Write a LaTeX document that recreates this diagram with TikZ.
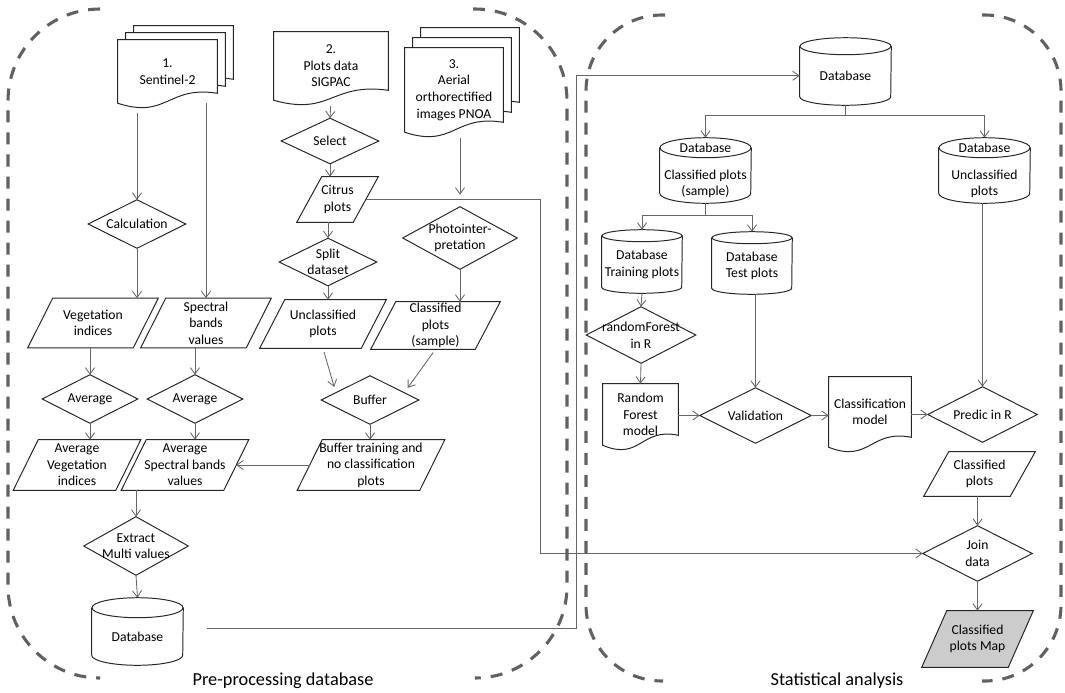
\documentclass[tikz,border=0pt]{standalone}
\usepackage{fontspec}
\setmainfont{Carlito}
\usetikzlibrary{arrows.meta,calc,backgrounds}

% outlines drawn round plain nodes
\newcommand{\decisionline}[1]{%
  \draw[shapeline] (#1.north) -- (#1.east) -- (#1.south) -- (#1.west) -- cycle;}
\newcommand{\ioline}[2][white]{%
  \draw[shapeline, fill=#1] ($(#2.south west)+(-12.5,0)$) -- ($(#2.north west)+(12.5,0)$)
    -- ($(#2.north east)+(12.5,0)$) -- ($(#2.south east)+(-12.5,0)$) -- cycle;}
\newcommand{\docline}[3]{%
  \draw[shapeline, fill=white] ($(#1.north west)+(#2,#3)$) -- ($(#1.north east)+(#2,#3)$)
    -- ($(#1.south east)+(#2,#3-10)$)
    .. controls ($(#1.south)+(#2,#3-18)$) and ($(#1.south)+(#2,#3+16)$) .. ($(#1.south west)+(#2,#3)$) -- cycle;}
\newcommand{\multidocline}[5]{\docline{#1}{#4}{#5}\docline{#1}{#2}{#3}\docline{#1}{0}{0}}
\newcommand{\dbline}[4]{%
  \draw[shapeline] ($(#1.north west)+(0,#4)$) -- ($(#1.south west)+(0,-#3)$)
    arc[start angle=180, end angle=0, x radius=#2, y radius=#3]
    -- ($(#1.north east)+(0,#4)$);
  \draw[shapeline] ($(#1.north)+(0,#4)$) ellipse[x radius=#2, y radius=#3];}

\begin{document}
\begin{tikzpicture}[
    x=0.025cm, y=-0.025cm,
    every node/.style={font=\fontsize{9.7}{11.8}\selectfont, align=center, inner sep=0pt},
    sized/.style 2 args={minimum width=#1, minimum height=#2},
    shapeline/.style={draw=black!85, line width=0.7pt},
    flow/.style={draw=black!60, line width=0.6pt, -{Straight Barb[length=4.5pt,width=6.5pt]}},
    link/.style={draw=black!60, line width=0.6pt},
    region/.style={draw=black!62, line width=2.2pt, dash pattern=on 0.3cm off 0.25cm},
    regionlabel/.style={font=\fontsize{13}{15}\selectfont}
]
\useasboundingbox (0,0) rectangle (1065,692);

% pre-processing column 1
\node[sized={2.475cm}{1.575cm}] (sentinel) at (167.5,71.5) {1.\\Sentinel-2};
\node[sized={2.425cm}{1.2cm}] (calc) at (137,224) {Calculation};
\node[sized={2.625cm}{1.225cm}] (vegidx) at (93,323) {Vegetation\\indices};
\node[sized={2.625cm}{1.225cm}] (specbands) at (206,323) {Spectral\\bands\\values};
\node[sized={2.375cm}{1.2cm}] (avgone) at (90,399) {Average};
\node[sized={2.375cm}{1.2cm}] (avgtwo) at (195,399) {Average};
\node[sized={2.55cm}{1.25cm}] (avgveg) at (77,465) {Average\\Vegetation\\indices};
\node[sized={2.55cm}{1.25cm}] (avgspec) at (185,465) {Average\\Spectral bands\\values};
\node[sized={2.6cm}{1.45cm}] (extract) at (136,546) {Extract\\Multi values};
\node[sized={2.275cm}{1.425cm}] (dbleft) at (137.5,636.5) {Database};

% pre-processing columns 2 and 3
\node[sized={2.85cm}{1.7cm}] (sigpac) at (331,66) {2.\\Plots data\\SIGPAC};
\node[sized={2.425cm}{1.125cm}] (select) at (330,141) {Select};
\node[sized={1.4cm}{1.125cm}] (citrus) at (337.5,199.5) {Citrus\\plots};
\node[sized={2.425cm}{1.175cm}] (split) at (328,262) {Split\\dataset};
\node[sized={2.525cm}{1.2cm}] (unclass) at (323,324) {Unclassified\\plots};
\node[sized={2.45cm}{2.1cm}] (aerial) at (454,90) {3.\\Aerial\\orthorectified\\images PNOA};
\node[sized={2.85cm}{1.55cm}] (photo) at (460,238) {Photointer-\\pretation};
\node[sized={2.6cm}{1.175cm}] (classsample) at (435.5,325.5) {Classified\\plots\\(sample)};
\node[sized={2.425cm}{1.2cm}] (buffer) at (370,400) {Buffer};
\node[sized={3.05cm}{1.25cm}] (bufplots) at (371,465) {Buffer training and\\no classification\\plots};

% statistical analysis
\node[sized={2.275cm}{1.4625cm}] (dbtop) at (845.5,75.75) {Database};
\node[sized={2.275cm}{1.625cm}] (dbclass) at (705.5,170.5) {Database\\[7pt]Classified plots\\(sample)};
\node[sized={2.275cm}{1.625cm}] (dbunclass) at (984.5,170.5) {Database\\[7pt]Unclassified\\plots};
\node[sized={2cm}{1.425cm}] (dbtrain) at (642,264.5) {Database\\Training plots};
\node[sized={2cm}{1.4cm}] (dbtest) at (752,266) {Database\\Test plots};
\node[sized={2.725cm}{1.4cm}] (rf) at (641,335) {randomForest\\in R};
\node[sized={1.875cm}{1.525cm}] (rfmodel) at (640.5,414.5) {Random\\Forest\\model};
\node[sized={2.775cm}{1.375cm}] (valid) at (755.5,415.5) {Validation};
\node[sized={2.05cm}{1.75cm}] (classmodel) at (870,412) {Classification\\model};
\node[sized={2.725cm}{1.375cm}] (predic) at (982.5,414.5) {Predic in R};
\node[sized={2.15cm}{1.1cm}] (classplots) at (979.5,474) {Classified\\plots};
\node[sized={2.725cm}{1.375cm}] (join) at (977.5,553.5) {Join\\data};
\node[sized={2.15cm}{1.4cm}] (cmap) at (977.5,639) {Classified\\plots Map};

\node[regionlabel] (prelabel) at (283,681) {Pre-processing database};
\node[regionlabel] (statlabel) at (837,681) {Statistical analysis};

\begin{scope}[on background layer]
  % dashed regions
  \draw[region, rounded corners=2.3cm] (100,9) -- (8,9) -- (8,678) -- (100,678);
  \draw[region, rounded corners=2.3cm] (473,9) -- (567,9) -- (567,678) -- (475,678);
  \draw[region, rounded corners=1.9cm] (665,15) -- (586,15) -- (586,681) -- (663,681);
  \draw[region, rounded corners=1.9cm] (982,15) -- (1061,15) -- (1061,681) -- (982,681);
  % shapes
  \multidocline{sentinel}{8}{-7}{16}{-14}
  \docline{sigpac}{0}{0}
  \multidocline{aerial}{8}{-10}{16}{-20}
  \docline{rfmodel}{0}{0}
  \docline{classmodel}{0}{0}
  \foreach \d in {calc,avgone,avgtwo,extract,select,split,photo,buffer,rf,valid,predic,join}
    {\decisionline{\d}}
  \foreach \p in {vegidx,specbands,avgveg,avgspec,citrus,unclass,classsample,bufplots,classplots}
    {\ioline{\p}}
  \ioline[black!20]{cmap}
  \dbline{dbtop}{45.5}{8.5}{0}
  \dbline{dbleft}{45.5}{10}{0}
  \dbline{dbclass}{45.5}{10}{10}
  \dbline{dbunclass}{45.5}{10}{10}
  \dbline{dbtrain}{40}{6}{0}
  \dbline{dbtest}{40}{6}{0}
\end{scope}

% connectors, pre-processing
\draw[flow, shorten <=0.25cm] (calc.north |- sentinel.south) -- (calc.north);
\draw[flow] (specbands.north |- sentinel.south) -- (specbands.north);
\draw[flow] (calc.south) -- (calc.south |- vegidx.north);
\draw[flow] (avgone.north |- vegidx.south) -- (avgone.north);
\draw[flow] (avgtwo.north |- specbands.south) -- (avgtwo.north);
\draw[flow] (avgone.south) -- (avgone.south |- avgveg.north);
\draw[flow] (avgtwo.south) -- (avgtwo.south |- avgspec.north);
\draw[flow] (bufplots.west) -- (avgspec.east);
\draw[flow] (extract.north |- avgspec.south) -- (extract.north);
\draw[flow] (extract.south) -- ($(dbleft.north)+(0,-10)$);
\draw[flow] ($(dbleft.east)+(24,-8)$) -- ++(369,0) |- (dbtop.west);
\draw[flow, shorten <=0.15cm] (sigpac.south) -- (select.north);
\draw[flow] (select.south) -- (select.south |- citrus.north);
\draw[flow] (split.north |- citrus.south) -- (split.north);
\draw[flow] (split.south) -- (split.south |- unclass.north);
\draw[flow] (citrus.east) -- ++(174.5,0) |- (join.west);
\draw[flow, shorten <=0.15cm, shorten >=0.3cm] (photo.north |- aerial.south) -- (photo.north);
\draw[flow] (photo.south) -- (photo.south |- classsample.north);
\draw[flow, shorten <=0.1cm, shorten >=0.15cm] (unclass.south) -- ($(buffer.west)!0.3!(buffer.north)$);
\draw[flow, shorten <=0.1cm, shorten >=0.15cm] (classsample.south) -- ($(buffer.east)!0.3!(buffer.north)$);
\draw[flow] (buffer.south) -- (buffer.south |- bufplots.north);

% connectors, statistical analysis
\draw[link] (dbtop.south) -- ++(0,10) coordinate (topsplit);
\draw[flow] (topsplit) -| (dbclass.north);
\draw[flow] (topsplit) -| (dbunclass.north);
\draw[link] (dbclass.south) -- ++(0,12) coordinate (classsplit);
\draw[flow] (classsplit) -| ($(dbtrain.north)+(0,-6)$);
\draw[flow] (classsplit) -| ($(dbtest.north)+(0,-6)$);
\draw[flow] (dbtrain.south) -- (rf.north);
\draw[flow] (rf.south) -- (rfmodel.north);
\draw[flow] (valid.west -| rfmodel.east) -- (valid.west);
\draw[flow] (valid.north |- dbtest.south) -- (valid.north);
\draw[flow] (valid.east) -- (valid.east -| classmodel.west);
\draw[flow] (predic.west -| classmodel.east) -- (predic.west);
\draw[flow] (predic.north |- dbunclass.south) -- (predic.north);
\draw[flow] (join.north |- classplots.south) -- (join.north);
\draw[flow] (join.south) -- (join.south |- cmap.north);
\end{tikzpicture}
\end{document}
